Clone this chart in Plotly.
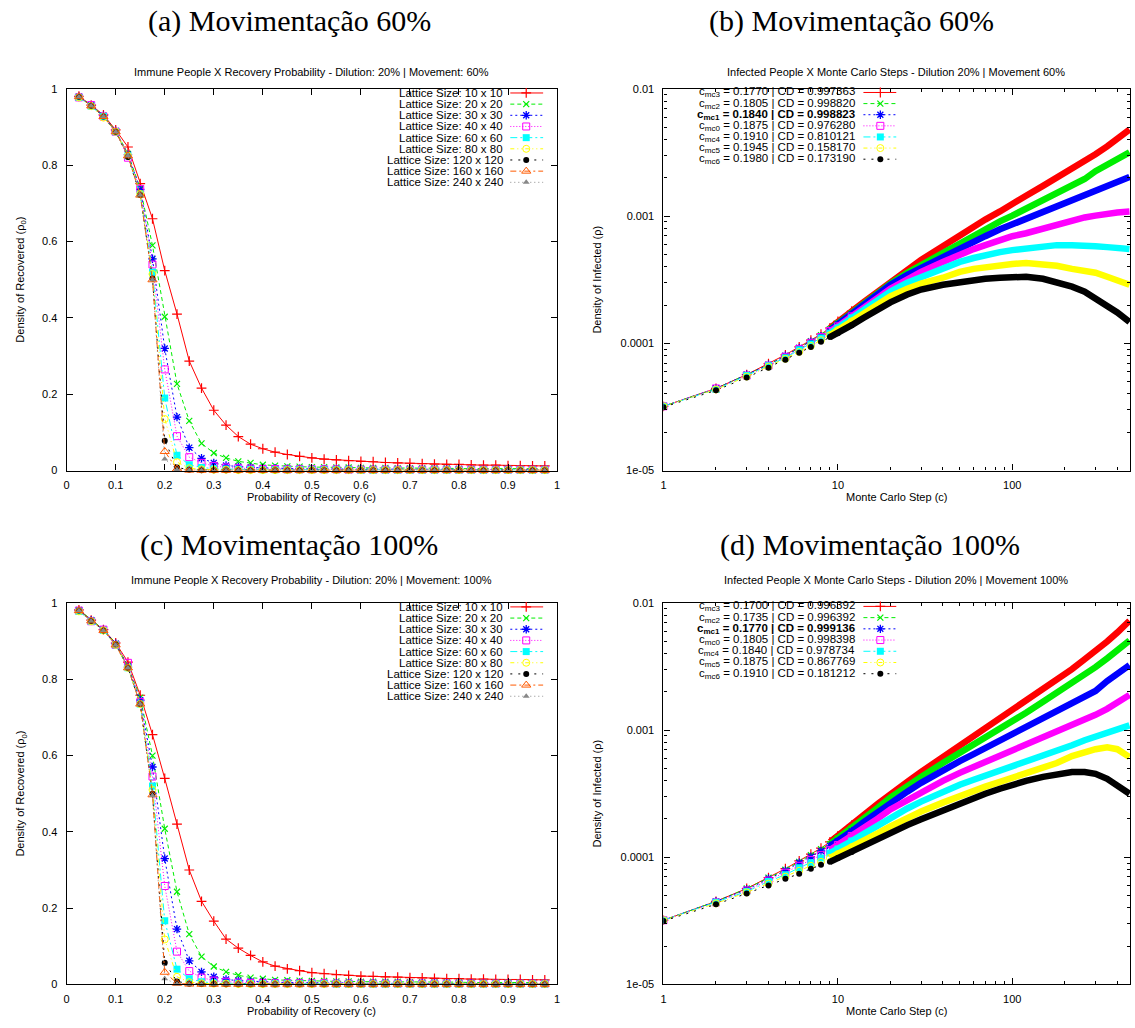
import plotly.graph_objects as go

W, H = 1135, 1028

# ---------------------------------------------------------------- data
recovery_prob = [0.025, 0.05, 0.075, 0.1, 0.125, 0.15, 0.175, 0.2, 0.225, 0.25,
                 0.275, 0.3, 0.325, 0.35, 0.375, 0.4, 0.425, 0.45, 0.475, 0.5,
                 0.525, 0.55, 0.575, 0.6, 0.625, 0.65, 0.675, 0.7, 0.725, 0.75,
                 0.775, 0.8, 0.825, 0.85, 0.875, 0.9, 0.925, 0.95, 0.975]

lattice_labels = ["Lattice Size: 10 x 10", "Lattice Size: 20 x 20", "Lattice Size: 30 x 30",
                  "Lattice Size: 40 x 40", "Lattice Size: 60 x 60", "Lattice Size: 80 x 80",
                  "Lattice Size: 120 x 120", "Lattice Size: 160 x 160", "Lattice Size: 240 x 240"]

# density of recovered, movement 60 %
rec60_10 = [0.981, 0.958, 0.932, 0.893, 0.848, 0.752, 0.660, 0.524, 0.410, 0.287,
            0.216, 0.158, 0.119, 0.089, 0.069, 0.057, 0.048, 0.042, 0.037, 0.033,
            0.030, 0.028, 0.026, 0.024, 0.023, 0.021, 0.020, 0.019, 0.018, 0.017,
            0.016, 0.016, 0.015, 0.014, 0.014, 0.013, 0.013, 0.012, 0.012]
rec60_20 = [0.980, 0.957, 0.930, 0.890, 0.830, 0.740, 0.590, 0.403, 0.227, 0.130,
            0.071, 0.046, 0.033, 0.024, 0.020, 0.015, 0.013, 0.011, 0.010, 0.009,
            0.009, 0.008, 0.008, 0.007, 0.007, 0.007, 0.006, 0.006, 0.006, 0.006,
            0.006, 0.005, 0.005, 0.005, 0.005, 0.005, 0.005, 0.005, 0.005]
rec60_30 = [0.980, 0.957, 0.930, 0.890, 0.828, 0.737, 0.555, 0.320, 0.140, 0.060,
            0.032, 0.020, 0.013, 0.010, 0.008, 0.007, 0.006, 0.005, 0.005, 0.004,
            0.004, 0.004, 0.004, 0.003, 0.003, 0.003, 0.003, 0.003, 0.003, 0.003,
            0.003, 0.003, 0.002, 0.002, 0.002, 0.002, 0.002, 0.002, 0.002]
rec60_40 = [0.978, 0.958, 0.928, 0.888, 0.820, 0.738, 0.540, 0.265, 0.090, 0.035,
            0.020, 0.012, 0.008, 0.006, 0.005, 0.004, 0.004, 0.003, 0.003, 0.003,
            0.003, 0.003, 0.002, 0.002, 0.002, 0.002, 0.002, 0.002, 0.002, 0.002,
            0.002, 0.002, 0.002, 0.002, 0.002, 0.002, 0.002, 0.002, 0.002]
rec60_60 = [0.978, 0.955, 0.928, 0.888, 0.825, 0.725, 0.520, 0.190, 0.040, 0.015,
            0.008, 0.005, 0.004, 0.003, 0.003, 0.002, 0.002, 0.002, 0.002, 0.002,
            0.002, 0.002, 0.002, 0.001, 0.001, 0.001, 0.001, 0.001, 0.001, 0.001,
            0.001, 0.001, 0.001, 0.001, 0.001, 0.001, 0.001, 0.001, 0.001]
rec60_80 = [0.978, 0.955, 0.925, 0.888, 0.825, 0.725, 0.515, 0.135, 0.022, 0.006,
            0.003, 0.002, 0.002, 0.001, 0.001, 0.001, 0.001, 0.001, 0.001, 0.001,
            0.001, 0.001, 0.001, 0.001, 0.001, 0.001, 0.001, 0.001, 0.001, 0.001,
            0.001, 0.001, 0.001, 0.001, 0.001, 0.001, 0.001, 0.001, 0.001]
rec60_120 = [0.980, 0.956, 0.928, 0.888, 0.822, 0.722, 0.503, 0.078, 0.008, 0.002,
             0.001, 0.001, 0.0008, 0.0007, 0.0006, 0.0005, 0.0005, 0.0005, 0.0005, 0.0005,
             0.0005, 0.0005, 0.0005, 0.0005, 0.0005, 0.0005, 0.0005, 0.0005, 0.0005, 0.0005,
             0.0005, 0.0005, 0.0005, 0.0005, 0.0005, 0.0005, 0.0005, 0.0005, 0.0005]
rec60_160 = [0.980, 0.956, 0.928, 0.888, 0.825, 0.722, 0.500, 0.050, 0.004, 0.001,
             0.0006, 0.0005, 0.0004, 0.0004, 0.0004, 0.0004, 0.0004, 0.0004, 0.0004, 0.0004,
             0.0004, 0.0004, 0.0004, 0.0004, 0.0004, 0.0004, 0.0004, 0.0004, 0.0004, 0.0004,
             0.0004, 0.0004, 0.0004, 0.0004, 0.0004, 0.0004, 0.0004, 0.0004, 0.0004]
rec60_240 = [0.980, 0.956, 0.928, 0.888, 0.825, 0.722, 0.500, 0.030, 0.002, 0.0005,
             0.0003, 0.0003, 0.0003, 0.0003, 0.0003, 0.0003, 0.0003, 0.0003, 0.0003, 0.0003,
             0.0003, 0.0003, 0.0003, 0.0003, 0.0003, 0.0003, 0.0003, 0.0003, 0.0003, 0.0003,
             0.0003, 0.0003, 0.0003, 0.0003, 0.0003, 0.0003, 0.0003, 0.0003, 0.0003]

# density of recovered, movement 100 %
rec100_10 = [0.982, 0.955, 0.930, 0.895, 0.845, 0.758, 0.655, 0.540, 0.420, 0.300,
             0.218, 0.166, 0.119, 0.095, 0.076, 0.059, 0.048, 0.041, 0.036, 0.031,
             0.028, 0.026, 0.024, 0.022, 0.021, 0.020, 0.019, 0.018, 0.017, 0.016,
             0.015, 0.015, 0.014, 0.014, 0.013, 0.013, 0.013, 0.012, 0.012]
rec100_20 = [0.982, 0.955, 0.930, 0.893, 0.835, 0.752, 0.600, 0.408, 0.243, 0.132,
             0.073, 0.047, 0.033, 0.024, 0.018, 0.015, 0.012, 0.011, 0.010, 0.009,
             0.009, 0.008, 0.008, 0.007, 0.007, 0.007, 0.007, 0.006, 0.006, 0.006,
             0.006, 0.006, 0.005, 0.005, 0.005, 0.005, 0.005, 0.005, 0.005]
rec100_30 = [0.980, 0.955, 0.930, 0.893, 0.832, 0.745, 0.570, 0.330, 0.145, 0.062,
             0.033, 0.020, 0.013, 0.010, 0.008, 0.007, 0.006, 0.005, 0.005, 0.004,
             0.004, 0.004, 0.004, 0.003, 0.003, 0.003, 0.003, 0.003, 0.003, 0.003,
             0.003, 0.003, 0.003, 0.002, 0.002, 0.002, 0.002, 0.002, 0.002]
rec100_40 = [0.980, 0.952, 0.930, 0.890, 0.843, 0.740, 0.545, 0.258, 0.086, 0.035,
             0.018, 0.010, 0.007, 0.005, 0.004, 0.004, 0.003, 0.003, 0.003, 0.003,
             0.003, 0.002, 0.002, 0.002, 0.002, 0.002, 0.002, 0.002, 0.002, 0.002,
             0.002, 0.002, 0.002, 0.002, 0.002, 0.002, 0.002, 0.002, 0.002]
rec100_60 = [0.978, 0.952, 0.928, 0.890, 0.830, 0.735, 0.520, 0.167, 0.040, 0.015,
             0.007, 0.004, 0.003, 0.003, 0.002, 0.002, 0.002, 0.002, 0.002, 0.002,
             0.002, 0.001, 0.001, 0.001, 0.001, 0.001, 0.001, 0.001, 0.001, 0.001,
             0.001, 0.001, 0.001, 0.001, 0.001, 0.001, 0.001, 0.001, 0.001]
rec100_80 = [0.978, 0.952, 0.928, 0.890, 0.830, 0.735, 0.510, 0.118, 0.020, 0.006,
             0.003, 0.002, 0.002, 0.001, 0.001, 0.001, 0.001, 0.001, 0.001, 0.001,
             0.001, 0.001, 0.001, 0.001, 0.001, 0.001, 0.001, 0.001, 0.001, 0.001,
             0.001, 0.001, 0.001, 0.001, 0.001, 0.001, 0.001, 0.001, 0.001]
rec100_120 = [0.980, 0.953, 0.928, 0.892, 0.830, 0.735, 0.500, 0.057, 0.008, 0.002,
              0.001, 0.001, 0.0008, 0.0007, 0.0006, 0.0005, 0.0005, 0.0005, 0.0005, 0.0005,
              0.0005, 0.0005, 0.0005, 0.0005, 0.0005, 0.0005, 0.0005, 0.0005, 0.0005, 0.0005,
              0.0005, 0.0005, 0.0005, 0.0005, 0.0005, 0.0005, 0.0005, 0.0005, 0.0005]
rec100_160 = [0.980, 0.953, 0.928, 0.890, 0.830, 0.735, 0.497, 0.032, 0.003, 0.001,
              0.0006, 0.0005, 0.0004, 0.0004, 0.0004, 0.0004, 0.0004, 0.0004, 0.0004, 0.0004,
              0.0004, 0.0004, 0.0004, 0.0004, 0.0004, 0.0004, 0.0004, 0.0004, 0.0004, 0.0004,
              0.0004, 0.0004, 0.0004, 0.0004, 0.0004, 0.0004, 0.0004, 0.0004, 0.0004]
rec100_240 = [0.980, 0.953, 0.928, 0.890, 0.830, 0.735, 0.495, 0.015, 0.001, 0.0004,
              0.0003, 0.0003, 0.0003, 0.0003, 0.0003, 0.0003, 0.0003, 0.0003, 0.0003, 0.0003,
              0.0003, 0.0003, 0.0003, 0.0003, 0.0003, 0.0003, 0.0003, 0.0003, 0.0003, 0.0003,
              0.0003, 0.0003, 0.0003, 0.0003, 0.0003, 0.0003, 0.0003, 0.0003, 0.0003]

mc_steps = [1, 2, 3, 4, 5, 6, 7, 8, 9, 10, 12, 14, 17, 20, 25, 30, 40, 50, 60, 70,
            85, 100, 120, 150, 180, 220, 260, 300, 350, 400, 470]

cmc_labels_60 = ["c<sub>mc3</sub> = 0.1770 | CD = 0.997363",
                 "c<sub>mc2</sub> = 0.1805 | CD = 0.998820",
                 "<b>c<sub>mc1</sub> = 0.1840 | CD = 0.998823</b>",
                 "c<sub>mc0</sub> = 0.1875 | CD = 0.976280",
                 "c<sub>mc4</sub> = 0.1910 | CD = 0.810121",
                 "c<sub>mc5</sub> = 0.1945 | CD = 0.158170",
                 "c<sub>mc6</sub> = 0.1980 | CD = 0.173190"]
cmc_labels_100 = ["c<sub>mc3</sub> = 0.1700 | CD = 0.996392",
                  "c<sub>mc2</sub> = 0.1735 | CD = 0.996392",
                  "<b>c<sub>mc1</sub> = 0.1770 | CD = 0.999136</b>",
                  "c<sub>mc0</sub> = 0.1805 | CD = 0.998398",
                  "c<sub>mc4</sub> = 0.1840 | CD = 0.978734",
                  "c<sub>mc5</sub> = 0.1875 | CD = 0.867769",
                  "c<sub>mc6</sub> = 0.1910 | CD = 0.181212"]

# density of infected vs Monte Carlo step, movement 60 %
inf60_mc3 = [3.2e-5, 4.42e-5, 5.68e-5, 6.92e-5, 8.13e-5, 9.38e-5, 1.06e-4, 1.18e-4, 1.32e-4, 1.49e-4,
             1.79e-4, 2.10e-4, 2.55e-4, 3.05e-4, 3.85e-4, 4.53e-4, 5.81e-4, 7.1e-4, 8.2e-4, 9.4e-4,
             1.09e-3, 1.23e-3, 1.45e-3, 1.73e-3, 2.00e-3, 2.35e-3, 2.71e-3, 3.07e-3, 3.54e-3, 4.09e-3, 4.80e-3]
inf60_mc2 = [3.2e-5, 4.42e-5, 5.68e-5, 6.79e-5, 7.98e-5, 9.21e-5, 1.04e-4, 1.16e-4, 1.29e-4, 1.44e-4,
             1.72e-4, 2.02e-4, 2.46e-4, 2.95e-4, 3.59e-4, 4.14e-4, 5.22e-4, 6.14e-4, 7.08e-4, 7.88e-4,
             9.1e-4, 1.01e-3, 1.15e-3, 1.35e-3, 1.53e-3, 1.76e-3, 1.96e-3, 2.26e-3, 2.57e-3, 2.86e-3, 3.18e-3]
inf60_mc1 = [3.2e-5, 4.42e-5, 5.68e-5, 6.79e-5, 7.98e-5, 9.21e-5, 1.03e-4, 1.14e-4, 1.27e-4, 1.41e-4,
             1.69e-4, 1.99e-4, 2.42e-4, 2.89e-4, 3.46e-4, 3.92e-4, 4.86e-4, 5.71e-4, 6.36e-4, 6.96e-4,
             7.88e-4, 8.62e-4, 9.4e-4, 1.07e-3, 1.19e-3, 1.35e-3, 1.47e-3, 1.58e-3, 1.73e-3, 1.86e-3, 2.03e-3]
inf60_mc0 = [3.2e-5, 4.42e-5, 5.58e-5, 6.68e-5, 7.84e-5, 9.05e-5, 1.01e-4, 1.12e-4, 1.25e-4, 1.36e-4,
             1.63e-4, 1.92e-4, 2.29e-4, 2.69e-4, 3.22e-4, 3.65e-4, 4.37e-4, 5.04e-4, 5.51e-4, 5.92e-4,
             6.47e-4, 6.96e-4, 7.34e-4, 8.02e-4, 8.62e-4, 9.26e-4, 9.77e-4, 1.01e-3, 1.05e-3, 1.07e-3, 1.09e-3]
inf60_mc4 = [3.2e-5, 4.34e-5, 5.58e-5, 6.68e-5, 7.7e-5, 8.89e-5, 9.89e-5, 1.10e-4, 1.20e-4, 1.32e-4,
             1.58e-4, 1.82e-4, 2.17e-4, 2.55e-4, 3.0e-4, 3.34e-4, 3.85e-4, 4.37e-4, 4.69e-4, 4.95e-4,
             5.22e-4, 5.41e-4, 5.61e-4, 5.81e-4, 5.92e-4, 5.92e-4, 5.92e-4, 5.81e-4, 5.71e-4, 5.61e-4, 5.51e-4]
inf60_mc5 = [3.2e-5, 4.34e-5, 5.48e-5, 6.56e-5, 7.56e-5, 8.57e-5, 9.54e-5, 1.06e-4, 1.16e-4, 1.27e-4,
             1.49e-4, 1.72e-4, 2.02e-4, 2.34e-4, 2.69e-4, 2.95e-4, 3.28e-4, 3.65e-4, 3.85e-4, 3.99e-4,
             4.14e-4, 4.21e-4, 4.29e-4, 4.21e-4, 4.07e-4, 3.85e-4, 3.72e-4, 3.59e-4, 3.34e-4, 3.16e-4, 2.89e-4]
inf60_mc6 = [3.15e-5, 4.27e-5, 5.38e-5, 6.44e-5, 7.43e-5, 8.42e-5, 9.38e-5, 1.03e-4, 1.12e-4, 1.20e-4,
             1.39e-4, 1.58e-4, 1.85e-4, 2.10e-4, 2.42e-4, 2.65e-4, 2.89e-4, 3.05e-4, 3.16e-4, 3.22e-4,
             3.28e-4, 3.34e-4, 3.34e-4, 3.22e-4, 3.05e-4, 2.79e-4, 2.55e-4, 2.25e-4, 1.99e-4, 1.75e-4, 1.47e-4]

# density of infected vs Monte Carlo step, movement 100 %
inf100_mc3 = [3.2e-5, 4.5e-5, 5.68e-5, 6.92e-5, 8.13e-5, 9.38e-5, 1.06e-4, 1.18e-4, 1.32e-4, 1.47e-4,
              1.79e-4, 2.14e-4, 2.65e-4, 3.16e-4, 3.92e-4, 4.69e-4, 6.14e-4, 7.47e-4, 8.78e-4, 1.01e-3,
              1.21e-3, 1.40e-3, 1.67e-3, 2.07e-3, 2.48e-3, 3.02e-3, 3.61e-3, 4.16e-3, 4.98e-3, 5.85e-3, 7.25e-3]
inf100_mc2 = [3.2e-5, 4.5e-5, 5.68e-5, 6.92e-5, 7.98e-5, 9.21e-5, 1.04e-4, 1.16e-4, 1.27e-4, 1.41e-4,
              1.69e-4, 2.02e-4, 2.46e-4, 2.95e-4, 3.65e-4, 4.29e-4, 5.51e-4, 6.59e-4, 7.74e-4, 8.78e-4,
              1.03e-3, 1.17e-3, 1.37e-3, 1.67e-3, 1.96e-3, 2.35e-3, 2.76e-3, 3.13e-3, 3.67e-3, 4.24e-3, 5.07e-3]
inf100_mc1 = [3.2e-5, 4.5e-5, 5.58e-5, 6.79e-5, 7.84e-5, 9.05e-5, 1.01e-4, 1.12e-4, 1.23e-4, 1.34e-4,
              1.60e-4, 1.88e-4, 2.29e-4, 2.69e-4, 3.28e-4, 3.85e-4, 4.86e-4, 5.71e-4, 6.47e-4, 7.21e-4,
              8.32e-4, 9.26e-4, 1.05e-3, 1.23e-3, 1.40e-3, 1.61e-3, 1.83e-3, 2.03e-3, 2.43e-3, 2.76e-3, 3.24e-3]
inf100_mc0 = [3.2e-5, 4.42e-5, 5.48e-5, 6.56e-5, 7.56e-5, 8.57e-5, 9.54e-5, 1.04e-4, 1.14e-4, 1.25e-4,
              1.47e-4, 1.69e-4, 2.02e-4, 2.38e-4, 2.84e-4, 3.28e-4, 3.99e-4, 4.61e-4, 5.13e-4, 5.61e-4,
              6.25e-4, 6.83e-4, 7.6e-4, 8.62e-4, 9.6e-4, 1.09e-3, 1.21e-3, 1.32e-3, 1.47e-3, 1.64e-3, 1.89e-3]
inf100_mc4 = [3.2e-5, 4.42e-5, 5.38e-5, 6.44e-5, 7.3e-5, 8.27e-5, 9.05e-5, 9.89e-5, 1.08e-4, 1.16e-4,
              1.34e-4, 1.52e-4, 1.79e-4, 2.06e-4, 2.42e-4, 2.74e-4, 3.28e-4, 3.72e-4, 4.07e-4, 4.37e-4,
              4.78e-4, 5.13e-4, 5.61e-4, 6.25e-4, 6.83e-4, 7.6e-4, 8.32e-4, 8.93e-4, 9.6e-4, 1.01e-3, 1.09e-3]
inf100_mc5 = [3.2e-5, 4.34e-5, 5.29e-5, 6.21e-5, 7.04e-5, 7.84e-5, 8.57e-5, 9.21e-5, 9.89e-5, 1.06e-4,
              1.20e-4, 1.34e-4, 1.55e-4, 1.75e-4, 2.06e-4, 2.29e-4, 2.69e-4, 3.05e-4, 3.34e-4, 3.59e-4,
              3.92e-4, 4.21e-4, 4.53e-4, 5.04e-4, 5.51e-4, 6.25e-4, 6.71e-4, 7.08e-4, 7.34e-4, 7.08e-4, 6.14e-4]
inf100_mc6 = [3.15e-5, 4.27e-5, 5.19e-5, 5.99e-5, 6.79e-5, 7.43e-5, 8.13e-5, 8.73e-5, 9.21e-5, 9.89e-5,
              1.10e-4, 1.23e-4, 1.39e-4, 1.55e-4, 1.79e-4, 1.99e-4, 2.34e-4, 2.65e-4, 2.89e-4, 3.16e-4,
              3.46e-4, 3.72e-4, 3.99e-4, 4.29e-4, 4.53e-4, 4.69e-4, 4.69e-4, 4.53e-4, 4.14e-4, 3.72e-4, 3.16e-4]

rec60_series = [rec60_10, rec60_20, rec60_30, rec60_40, rec60_60, rec60_80, rec60_120, rec60_160, rec60_240]
rec100_series = [rec100_10, rec100_20, rec100_30, rec100_40, rec100_60, rec100_80, rec100_120, rec100_160, rec100_240]
inf60_series = [inf60_mc3, inf60_mc2, inf60_mc1, inf60_mc0, inf60_mc4, inf60_mc5, inf60_mc6]
inf100_series = [inf100_mc3, inf100_mc2, inf100_mc1, inf100_mc0, inf100_mc4, inf100_mc5, inf100_mc6]

# ---------------------------------------------------------------- styles (gnuplot-like)
STYLES = [
    dict(color="#ff0000", dash="solid",                  symbol="cross-thin",       size=7, lw=1.2),
    dict(color="#00ee00", dash="4px,3px",                symbol="x-thin",           size=6, lw=1.2),
    dict(color="#0000ff", dash="2px,3px",                symbol="asterisk",         size=7, lw=1.3),
    dict(color="#ff00ff", dash="1px,2px",                symbol="square-open",      size=7, lw=1.0),
    dict(color="#00ffff", dash="7px,3px,2px,3px",        symbol="square",           size=7, lw=0),
    dict(color="#ffff00", dash="4px,3px,1px,3px,1px,3px", symbol="circle-open",     size=7, lw=1.0),
    dict(color="#000000", dash="2px,6px",                symbol="circle",           size=6, lw=0),
    dict(color="#ff5a00", dash="6px,3px,2px,3px",        symbol="triangle-up-open", size=8, lw=1.0),
    dict(color="#888888", dash="1px,3px",                symbol="triangle-up",      size=6, lw=0),
]

SANS = "Liberation Sans, Arial, Helvetica, sans-serif"
SERIF = "Liberation Serif, Times New Roman, serif"

# plot boxes in pixels: left, right, top, bottom
BOX = {
    "a": (64, 557, 84, 470),
    "b": (664, 1133, 84, 470),
    "c": (64, 557, 604, 990),
    "d": (664, 1133, 604, 990),
}


def fx(px):
    return px / W


def fy(py):
    return 1 - py / H


def marker_of(st):
    m = dict(symbol=st["symbol"], size=st["size"], color=st["color"])
    m["line"] = dict(color=st["color"], width=st["lw"])
    return m


fig = go.Figure()

# ---------------------------------------------------------------- recovery panels
for series, ax in ((rec60_series, "a"), (rec100_series, "c")):
    xa, ya = ("x", "y") if ax == "a" else ("x3", "y3")
    for st, vals, name in zip(STYLES, series, lattice_labels):
        fig.add_trace(go.Scatter(
            x=recovery_prob, y=vals, mode="lines+markers", name=name,
            line=dict(color=st["color"], width=1, dash=st["dash"]),
            marker=marker_of(st), cliponaxis=False,
            xaxis=xa, yaxis=ya, showlegend=False, hoverinfo="skip"))

# ---------------------------------------------------------------- infected panels
for series, ax in ((inf60_series, "b"), (inf100_series, "d")):
    xa, ya = ("x2", "y2") if ax == "b" else ("x4", "y4")
    for st, vals in zip(STYLES[:7], series):
        early = [(s, v) for s, v in zip(mc_steps, vals) if s <= 12]
        late = [(s, v) for s, v in zip(mc_steps, vals) if s >= 9]
        # one marker per step: at later steps they merge into a solid band
        fig.add_trace(go.Scatter(
            x=[p[0] for p in late], y=[p[1] for p in late], mode="lines",
            line=dict(color=st["color"], width=6.5), xaxis=xa, yaxis=ya,
            showlegend=False, hoverinfo="skip"))
        fig.add_trace(go.Scatter(
            x=[p[0] for p in early], y=[p[1] for p in early], mode="lines+markers",
            line=dict(color=st["color"], width=1, dash=st["dash"]),
            marker=marker_of(st), xaxis=xa, yaxis=ya,
            showlegend=False, hoverinfo="skip"))

# ---------------------------------------------------------------- keys (text left, sample right)
annotations = []


def add_key(labels, text_right, x0, x1, xm, row0, dy):
    for i, (lab, st) in enumerate(zip(labels, STYLES)):
        yy = row0 + i * dy
        annotations.append(dict(
            x=fx(text_right), y=fy(yy), xref="paper", yref="paper", text=lab,
            showarrow=False, xanchor="right", yanchor="middle",
            font=dict(family=SANS, size=11.5, color="black")))
        fig.add_trace(go.Scatter(
            x=[x0, x1], y=[yy, yy], mode="lines",
            line=dict(color=st["color"], width=1, dash=st["dash"]),
            xaxis="x5", yaxis="y5", showlegend=False, hoverinfo="skip"))
        fig.add_trace(go.Scatter(
            x=[xm], y=[yy], mode="markers", marker=marker_of(st),
            xaxis="x5", yaxis="y5", showlegend=False, hoverinfo="skip"))


add_key(lattice_labels, 505, 510, 543, 526, 88.0, 11.3)
add_key(lattice_labels, 505, 510, 543, 526, 608.0, 11.3)
add_key(cmc_labels_60, 859, 865, 898, 882, 87.5, 11.25)
add_key(cmc_labels_100, 859, 865, 898, 882, 607.5, 11.35)

# ---------------------------------------------------------------- texts
def text(x, y, s, size=11, family=SANS, angle=0):
    annotations.append(dict(
        x=fx(x), y=fy(y), xref="paper", yref="paper", text=s, showarrow=False,
        xanchor="center", yanchor="middle", textangle=angle,
        font=dict(family=family, size=size, color="black")))


text(288, 15, "(a) Movimentação 60%", size=30, family=SERIF)
text(853, 15, "(b) Movimentação 60%", size=30, family=SERIF)
text(288, 545, "(c) Movimentação 100%", size=30, family=SERIF)
text(872, 545, "(d) Movimentação 100%", size=30, family=SERIF)

text(310, 67, "Immune People X Recovery Probability - Dilution: 20% | Movement: 60%")
text(898, 67, "Infected People X Monte Carlo Steps - Dilution 20% | Movement 60%")
text(310, 581, "Immune People X Recovery Probability - Dilution: 20% | Movement: 100%")
text(898, 581, "Infected People X Monte Carlo Steps - Dilution 20% | Movement 100%")

text(310, 497, "Probability of Recovery (c)")
text(898, 497, "Monte Carlo Step (c)")
text(310, 1017, "Probability of Recovery (c)")
text(898, 1017, "Monte Carlo Step (c)")

text(18, 277, "Density of Recovered (ρ<sub>0</sub>)", angle=-90)
text(597, 277, "Density of Infected (ρ)", angle=-90)
text(18, 797, "Density of Recovered (ρ<sub>0</sub>)", angle=-90)
text(597, 797, "Density of Infected (ρ)", angle=-90)

# ---------------------------------------------------------------- axes
common = dict(showline=True, linecolor="black", linewidth=1.2, mirror="ticks",
              ticks="inside", ticklen=6, tickwidth=1, tickcolor="black",
              showgrid=False, zeroline=False,
              tickfont=dict(family=SANS, size=11, color="black"))

log_minor_x = [2, 3, 4, 5, 6, 7, 8, 9, 20, 30, 40, 50, 60, 70, 80, 90, 200, 300, 400]
log_minor_y = [2e-5, 3e-5, 4e-5, 5e-5, 6e-5, 7e-5, 8e-5, 9e-5,
               2e-4, 3e-4, 4e-4, 5e-4, 6e-4, 7e-4, 8e-4, 9e-4,
               2e-3, 3e-3, 4e-3, 5e-3, 6e-3, 7e-3, 8e-3, 9e-3]


def lin_x(box):
    l, r, t, b = box
    return dict(common, domain=[fx(l), fx(r)], range=[0, 1], tick0=0, dtick=0.1,
                ticklabelstandoff=4)


def lin_y(box):
    l, r, t, b = box
    return dict(common, domain=[fy(b), fy(t)], range=[0, 1], tick0=0, dtick=0.2,
                ticklabelstandoff=6)


def log_x(box):
    l, r, t, b = box
    return dict(common, type="log", domain=[fx(l), fx(r)], range=[0, 2.675],
                tickvals=[1, 10, 100], ticktext=["1", "10", "100"], ticklabelstandoff=4,
                minor=dict(tickvals=log_minor_x, ticks="inside", ticklen=3,
                           tickcolor="black", showgrid=False))


def log_y(box):
    l, r, t, b = box
    return dict(common, type="log", domain=[fy(b), fy(t)], range=[-5, -2],
                tickvals=[1e-5, 1e-4, 1e-3, 1e-2],
                ticktext=["1e-05", "0.0001", "0.001", "0.01"], ticklabelstandoff=6,
                minor=dict(tickvals=log_minor_y, ticks="inside", ticklen=3,
                           tickcolor="black", showgrid=False))


fig.update_layout(
    width=W, height=H, margin=dict(l=0, r=0, t=0, b=0),
    paper_bgcolor="white", plot_bgcolor="rgba(0,0,0,0)",
    showlegend=False,
    xaxis=dict(lin_x(BOX["a"]), anchor="y"),
    yaxis=dict(lin_y(BOX["a"]), anchor="x"),
    xaxis2=dict(log_x(BOX["b"]), anchor="y2"),
    yaxis2=dict(log_y(BOX["b"]), anchor="x2"),
    xaxis3=dict(lin_x(BOX["c"]), anchor="y3"),
    yaxis3=dict(lin_y(BOX["c"]), anchor="x3"),
    xaxis4=dict(log_x(BOX["d"]), anchor="y4"),
    yaxis4=dict(log_y(BOX["d"]), anchor="x4"),
    xaxis5=dict(domain=[0, 1], range=[0, W], visible=False, fixedrange=True, anchor="y5"),
    yaxis5=dict(domain=[0, 1], range=[H, 0], visible=False, fixedrange=True, anchor="x5"),
    annotations=annotations,
)

fig.write_html("out.html")
